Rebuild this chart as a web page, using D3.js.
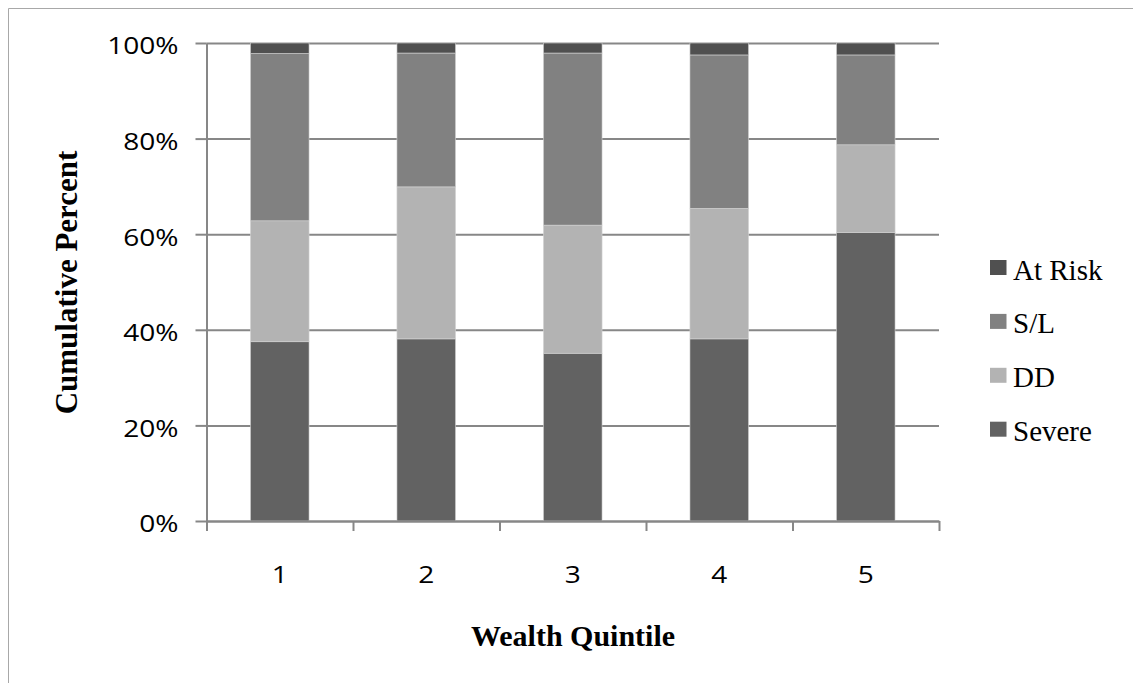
<!DOCTYPE html>
<html>
<head>
<meta charset="utf-8">
<script src="https://cdn.jsdelivr.net/npm/d3@7"></script>
<style>
  html, body { margin: 0; padding: 0; background: #ffffff; }
  svg { display: block; }
</style>
</head>
<body>
<svg id="chart" width="1133" height="683"></svg>
<script>
// ---- data ----
const categories = ["1", "2", "3", "4", "5"];
const seriesNames = ["Severe", "DD", "S/L", "At Risk"];
const severe = [37.5, 38.1, 35.1, 38.1, 60.4];
const dd     = [25.3, 31.8, 26.8, 27.3, 18.3];
const sl     = [35.0, 28.0, 36.0, 32.1, 18.8];
const atRisk = [2.2, 2.1, 2.1, 2.5, 2.5];
const yTicks = [0, 20, 40, 60, 80, 100];
const xTitle = "Wealth Quintile";
const yTitle = "Cumulative Percent";

// ---- styles ----
const colors = { "Severe": "#626262", "DD": "#b3b3b3", "S/L": "#818181", "At Risk": "#505050" };
const axisColor = "#878787";
const sansFont = "'Open Sans', sans-serif";
const serifFont = "'Liberation Serif', 'Times New Roman', serif";

const rows = categories.map((c, i) => ({
  cat: c, "Severe": severe[i], "DD": dd[i], "S/L": sl[i], "At Risk": atRisk[i]
}));

const svg = d3.select("#chart");
const plotLeft = 206.5, plotRight = 939, plotTop = 43, plotBottom = 521;

// outer frame (left and top edges visible)
svg.append("path")
  .attr("d", "M8.5,690 L8.5,8.5 L1140,8.5")
  .attr("fill", "none").attr("stroke", "#a8a8a8").attr("stroke-width", 1);

const x = d3.scaleBand().domain(categories).range([plotLeft, plotRight])
  .paddingInner(0.6).paddingOuter(0.3);
const xEdge = d3.scaleLinear().domain([0, categories.length]).range([plotLeft, plotRight]);
const y = d3.scaleLinear().domain([0, 100]).range([plotBottom, plotTop]);

// gridlines
const grid = svg.append("g").attr("transform", `translate(${plotLeft},0)`)
  .call(d3.axisLeft(y).tickValues(yTicks).tickSize(-(plotRight - plotLeft)).tickFormat(""));
grid.select(".domain").remove();
grid.selectAll("line").attr("stroke", axisColor).attr("stroke-width", 2);

// stacked bars
const stack = d3.stack().keys(seriesNames);
const layers = stack(rows);
svg.append("g").selectAll("g").data(layers).join("g")
  .attr("fill", d => colors[d.key])
  .selectAll("rect").data(d => d).join("rect")
  .attr("x", d => x(d.data.cat))
  .attr("width", x.bandwidth())
  .attr("y", d => y(d[1]))
  .attr("height", d => y(d[0]) - y(d[1]))
  .attr("stroke", "#d4d4d4").attr("stroke-width", 0.6);

// y axis
const ySx = 1.17;
const yAxis = svg.append("g").attr("transform", `translate(${plotLeft},0)`)
  .call(d3.axisLeft(y).tickValues(yTicks).tickSize(11).tickSizeOuter(0)
    .tickFormat(d => d + "%"));
yAxis.select(".domain").attr("stroke", axisColor).attr("stroke-width", 2);
yAxis.selectAll("line").attr("stroke", axisColor).attr("stroke-width", 2);
yAxis.selectAll("text")
  .attr("font-family", sansFont).attr("font-size", 24)
  .attr("fill", "#000").attr("text-anchor", "end")
  .attr("x", -28 / ySx).attr("dy", "0.45em")
  .attr("transform", `scale(${ySx},1)`);

// x axis: line + ticks at band edges
const xAxisEdges = svg.append("g").attr("transform", `translate(0,${plotBottom})`)
  .call(d3.axisBottom(xEdge).tickValues(d3.range(categories.length + 1))
    .tickSize(10).tickSizeOuter(0).tickFormat(""));
xAxisEdges.select(".domain").attr("stroke", axisColor).attr("stroke-width", 2);
xAxisEdges.selectAll("line").attr("stroke", axisColor).attr("stroke-width", 2);

// x labels
const xLabels = svg.append("g").attr("transform", `translate(0,${plotBottom})`)
  .call(d3.axisBottom(x).tickSize(0));
xLabels.select(".domain").remove();
xLabels.selectAll(".tick text")
  .attr("font-family", sansFont).attr("font-size", 24)
  .attr("fill", "#000").attr("y", 0).attr("dy", 0)
  .attr("transform", `translate(0,62) scale(${ySx},1)`);

// axis titles
svg.append("text")
  .attr("x", 573).attr("y", 646)
  .attr("text-anchor", "middle")
  .attr("font-family", serifFont)
  .attr("font-weight", "bold").attr("font-size", 30).attr("fill", "#000")
  .text(xTitle);

svg.append("text")
  .attr("transform", `translate(77,282.5) rotate(-90)`)
  .attr("text-anchor", "middle")
  .attr("font-family", serifFont)
  .attr("font-weight", "bold").attr("font-size", 31).attr("fill", "#000")
  .text(yTitle);

// legend (top to bottom: At Risk, S/L, DD, Severe)
const legendOrder = seriesNames.slice().reverse();
const leg = svg.append("g").selectAll("g").data(legendOrder).join("g")
  .attr("transform", (d, i) => `translate(990,${267.5 + i * 53.9})`);
leg.append("rect").attr("x", 0).attr("y", -7.5).attr("width", 16.5).attr("height", 15)
  .attr("fill", d => colors[d]);
leg.append("text")
  .attr("x", 23).attr("y", 12)
  .attr("font-family", serifFont)
  .attr("font-size", 29).attr("fill", "#000")
  .text(d => d);
</script>
</body>
</html>
